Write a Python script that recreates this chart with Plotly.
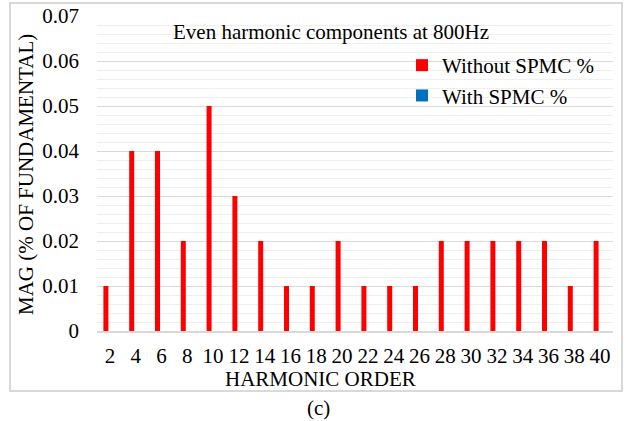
import plotly.graph_objects as go

harmonics = ["2", "4", "6", "8", "10", "12", "14", "16", "18", "20",
             "22", "24", "26", "28", "30", "32", "34", "36", "38", "40"]
without_spmc = [0.01, 0.04, 0.04, 0.02, 0.05, 0.03, 0.02, 0.01, 0.01, 0.02,
                0.01, 0.01, 0.01, 0.02, 0.02, 0.02, 0.02, 0.02, 0.01, 0.02]
with_spmc = [0] * len(harmonics)
y_ticks = [0, 0.01, 0.02, 0.03, 0.04, 0.05, 0.06, 0.07]
y_tick_labels = ["0", "0.01", "0.02", "0.03", "0.04", "0.05", "0.06", "0.07"]

FONT = "Liberation Serif, Times New Roman, DejaVu Serif, serif"
FS = 21

fig = go.Figure()
fig.add_trace(go.Bar(x=harmonics, y=without_spmc, name="Without SPMC %",
                     marker=dict(color="#ff0000", line=dict(width=0))))
fig.add_trace(go.Bar(x=harmonics, y=with_spmc, name="With SPMC %",
                     marker=dict(color="#0070c0", line=dict(width=0))))

L, R, T, B = 97, 613, 16, 331
W, H = 629, 421
pw, ph = R - L, B - T

def px(x):
    return (x - L) / pw

def py(y):
    return (B - y) / ph

fig.update_layout(
    width=W, height=H,
    margin=dict(l=L, r=W - R, t=T, b=H - B, autoexpand=False),
    paper_bgcolor="white", plot_bgcolor="white",
    font=dict(family=FONT, size=FS, color="#000000"),
    barmode="group", bargap=0.38, bargroupgap=0.375,
    showlegend=True,
    legend=dict(x=px(402), y=py(45), xanchor="left", yanchor="top",
                bgcolor="rgba(0,0,0,0)", font=dict(family=FONT, size=FS),
                tracegroupgap=0, itemwidth=30),
    xaxis=dict(type="category", showgrid=False, showline=True, automargin=False,
               linecolor="#d9d9d9", linewidth=2, ticks="",
               tickfont=dict(family=FONT, size=FS), ticklabelstandoff=5),
    yaxis=dict(range=[0, 0.07], tickvals=y_ticks, ticktext=y_tick_labels,
               showgrid=True, gridcolor="#d9d9d9", gridwidth=1, automargin=False,
               zeroline=False, ticks="", showline=False,
               tickfont=dict(family=FONT, size=FS), ticklabelstandoff=17,
               minor=dict(dtick=0.002, showgrid=True, gridcolor="#efefef", gridwidth=1)),
    shapes=[dict(type="rect", xref="paper", yref="paper",
                 x0=px(10), x1=px(622), y0=py(391), y1=py(3),
                 line=dict(color="#d9d9d9", width=2), fillcolor="rgba(0,0,0,0)",
                 layer="below")],
    annotations=[
        dict(text="Even harmonic components at 800Hz", xref="paper", yref="paper",
             x=px(331), y=py(32), xanchor="center", yanchor="middle",
             showarrow=False, font=dict(family=FONT, size=FS)),
        dict(text="HARMONIC ORDER", xref="paper", yref="paper",
             x=px(320), y=py(379), xanchor="center", yanchor="middle",
             showarrow=False, font=dict(family=FONT, size=FS)),
        dict(text="MAG (% OF FUNDAMENTAL)", xref="paper", yref="paper",
             x=px(26), y=py(175), xanchor="center", yanchor="middle", textangle=-90,
             showarrow=False, font=dict(family=FONT, size=FS)),
        dict(text="(c)", xref="paper", yref="paper",
             x=px(318), y=py(408), xanchor="center", yanchor="middle",
             showarrow=False, font=dict(family=FONT, size=FS)),
    ],
)

fig.write_html("out.html", config={"displayModeBar": False},
               post_script="document.body.style.margin='0';document.body.style.padding='0';")
